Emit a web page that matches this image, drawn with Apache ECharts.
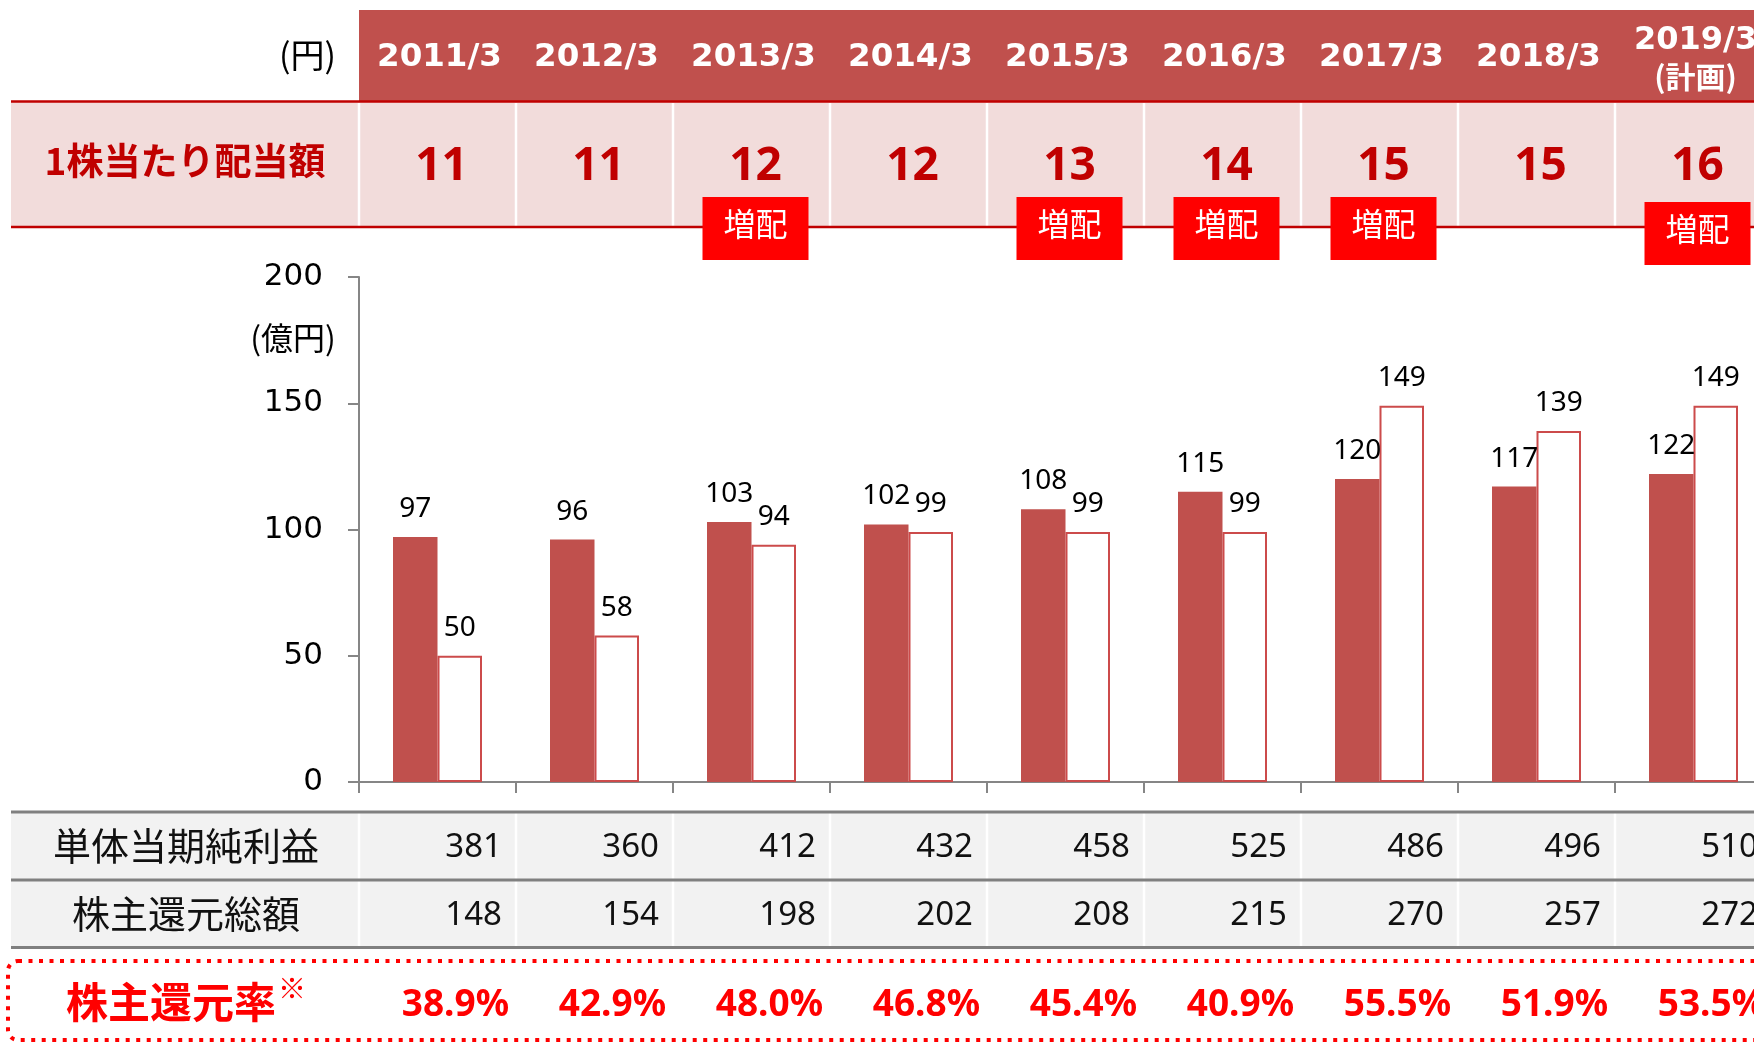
<!DOCTYPE html>
<html><head><meta charset="utf-8">
<script src="https://cdn.jsdelivr.net/npm/echarts@6/dist/echarts.min.js"></script>
<style>html,body{margin:0;padding:0;background:#fff}#c{width:1754px;height:1043px}</style>
</head><body><div id="c"></div>
<script>
// ---- data ----
const categories = ['2011/3','2012/3','2013/3','2014/3','2015/3','2016/3','2017/3','2018/3','2019/3'];
const categoryNotes = ['','','','','','','','','(計画)'];
const dividendPerShare = [11,11,12,12,13,14,15,15,16];
const dividendIncrease = [false,false,true,false,true,true,true,false,true];
const dividendTotal = [97,96,103,102,108,115,120,117,122];
const buyback = [50,58,94,99,99,99,149,139,149];
const netIncome = [381,360,412,432,458,525,486,496,510];
const totalReturn = [148,154,198,202,208,215,270,257,272];
const returnRatio = ['38.9%','42.9%','48.0%','46.8%','45.4%','40.9%','55.5%','51.9%','53.5%'];
const yMin = 0, yMax = 200, yStep = 50;

// ---- fonts/colors ----
const CJK = '"Noto Sans CJK JP", "Noto Sans", sans-serif';
const LATIN = '"Noto Sans", "Noto Sans CJK JP", sans-serif';
const VERD = '"DejaVu Sans", "Noto Sans CJK JP", sans-serif';
const BAR = '#C0504D', DARKRED = '#C00000', RED = '#FF0000', GRAY = '#868686';

const chart = echarts.init(document.getElementById('c'));
chart.setOption({
  animation: false,
  grid: { left: 359, top: 277, width: 1413, height: 505, containLabel: false, outerBoundsMode: 'none' },
  xAxis: {
    type: 'category', data: categories,
    axisLine: { lineStyle: { color: GRAY, width: 2 } },
    axisTick: { show: true, length: 11, lineStyle: { color: GRAY, width: 2 } },
    axisLabel: { show: false }, splitLine: { show: false }
  },
  yAxis: {
    type: 'value', min: yMin, max: yMax, interval: yStep,
    axisLine: { show: true, lineStyle: { color: GRAY, width: 2 } },
    axisTick: { show: true, length: 11, lineStyle: { color: GRAY, width: 2 } },
    splitLine: { show: false },
    axisLabel: { fontSize: 31, fontFamily: VERD, color: '#000', margin: 36 }
  },
  series: [
    { name: '配当総額', type: 'bar', data: dividendTotal, barWidth: 44.5, barGap: '0%',
      itemStyle: { color: BAR },
      label: { show: true, position: 'top', distance: 14, fontSize: 28, fontFamily: LATIN, color: '#000' } },
    { name: '自己株式取得', type: 'bar', data: buyback, barWidth: 44.5, barGap: '0%',
      itemStyle: { color: '#fff', borderColor: '#CC4B4B', borderWidth: 2 },
      label: { show: true, position: 'top', distance: 14, fontSize: 28, fontFamily: LATIN, color: '#000' } }
  ]
});

// ---- table built from the category axis ----
const cx = categories.map((c, i) => chart.convertToPixel({ xAxisIndex: 0 }, i));
const step = cx[1] - cx[0];
const bounds = cx.map(x => x - step / 2).concat([cx[cx.length - 1] + step / 2]);
const W = 1754;
const els = [];
function rect(x, y, w, h, style, z) { els.push({ type: 'rect', silent: true, z: z || 1, shape: { x, y, width: w, height: h }, style }); }
function line(x1, y1, x2, y2, stroke, lw, z) { els.push({ type: 'line', silent: true, z: z || 2, shape: { x1, y1, x2, y2 }, style: { stroke, lineWidth: lw } }); }
function text(x, y, t, st, z) { els.push({ type: 'text', silent: true, z: z || 5, x, y, style: Object.assign({ text: t, align: 'center', verticalAlign: 'middle' }, st) }); }

// header band
rect(bounds[0], 10, W - bounds[0], 91, { fill: BAR });
text(336, 55, '(円)', { align: 'right', fontSize: 34, fontFamily: CJK, fill: '#000' });
categories.forEach((c, i) => {
  if (categoryNotes[i]) {
    text(cx[i] + 2, 41, c, { fontSize: 32, fontWeight: 'bold', fontFamily: VERD, fill: '#fff' });
    text(cx[i] + 2, 77, categoryNotes[i], { fontSize: 30, fontWeight: 'bold', fontFamily: CJK, fill: '#fff' });
  } else {
    text(cx[i] + 2, 58, c, { fontSize: 32.5, fontWeight: 'bold', fontFamily: VERD, fill: '#fff' });
  }
});
// dividend per share band
rect(11, 102, W - 11, 125, { fill: '#F2DCDB' });
bounds.forEach(b => line(b, 103, b, 226, '#fff', 2.5, 2));
line(11, 101.5, W, 101.5, DARKRED, 2.5, 3);
line(11, 227, W, 227, DARKRED, 2.5, 3);
text(185, 161, '1株当たり配当額', { fontSize: 37, fontWeight: 'bold', fontFamily: CJK, fill: DARKRED });
dividendPerShare.forEach((v, i) => {
  text(cx[i] + 4, 167, String(v), { fontSize: 46, fontWeight: 'bold', fontFamily: LATIN, fill: DARKRED });
  if (dividendIncrease[i]) {
    const y0 = i === categories.length - 1 ? 202 : 197;
    rect(cx[i] + 4 - 53, y0, 106, 63, { fill: RED }, 6);
    text(cx[i] + 4, y0 + 27, '増配', { fontSize: 32, fontFamily: CJK, fill: '#fff' }, 7);
  }
});
// y axis unit
text(293, 338, '(億円)', { fontSize: 32, fontFamily: CJK, fill: '#000' });

// bottom table
rect(11, 812, W - 11, 135, { fill: '#F2F2F2' });
bounds.forEach(b => line(b, 813, b, 946, '#fff', 2.5, 2));
line(11, 812, W, 812, '#808080', 3, 3);
line(11, 880, W, 880, '#808080', 3, 3);
line(11, 947.5, W, 947.5, '#808080', 3, 3);
text(186, 846, '単体当期純利益', { fontSize: 38, fontFamily: CJK, fill: '#111' });
text(186, 914, '株主還元総額', { fontSize: 38, fontFamily: CJK, fill: '#111' });
netIncome.forEach((v, i) => text(bounds[i + 1] - 14, 848, String(v), { align: 'right', fontSize: 33, fontFamily: LATIN, fill: '#111' }));
totalReturn.forEach((v, i) => text(bounds[i + 1] - 14, 916, String(v), { align: 'right', fontSize: 33, fontFamily: LATIN, fill: '#111' }));

// shareholder return ratio row
els.push({ type: 'rect', silent: true, z: 4, shape: { x: 8, y: 961, width: 1800, height: 79, r: 10 },
  style: { fill: 'rgba(0,0,0,0)', stroke: RED, lineWidth: 4, lineDash: [4, 6.5] } });
text(171, 1002, '株主還元率', { fontSize: 42, fontWeight: 'bold', fontFamily: CJK, fill: RED });
text(292, 988, '※', { fontSize: 28, fontFamily: CJK, fill: RED });
returnRatio.forEach((v, i) => text(bounds[i + 1] - 7, 1005, v, { align: 'right', fontSize: 37, fontWeight: 'bold', fontFamily: LATIN, fill: RED }));

chart.setOption({ graphic: { elements: els } });
</script>
</body></html>
